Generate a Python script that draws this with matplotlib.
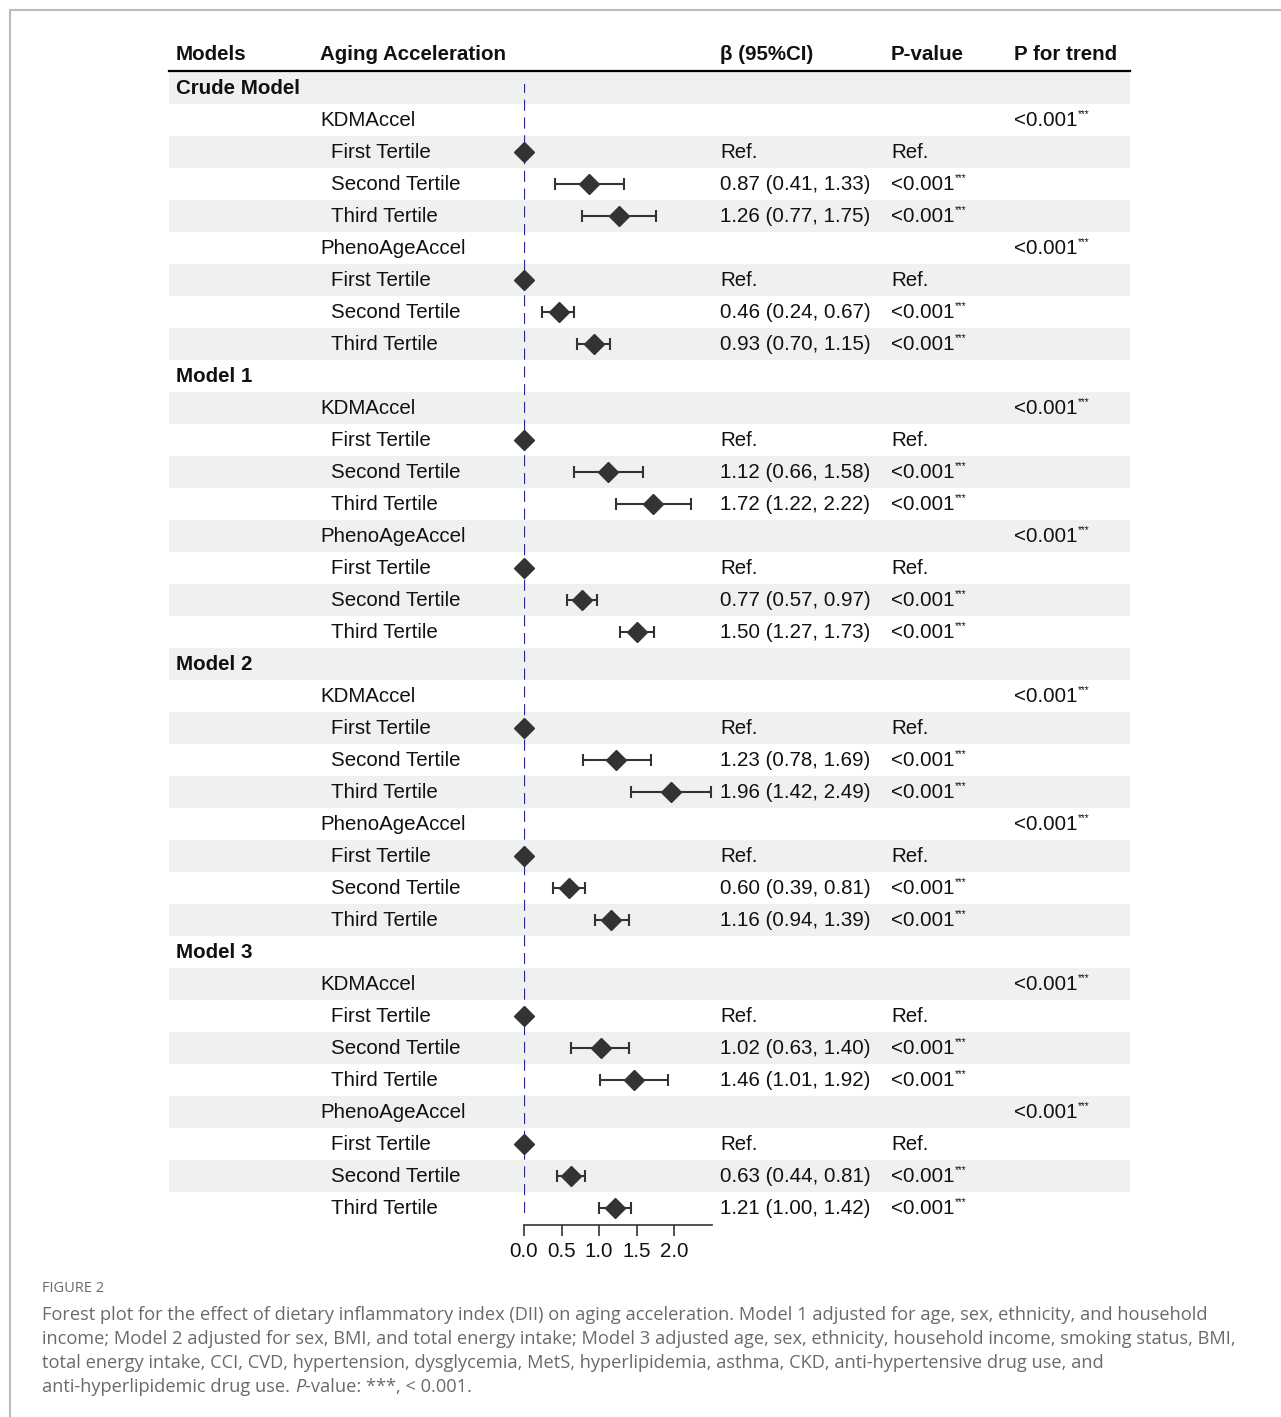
import numpy as np
import matplotlib.pyplot as plt
from matplotlib.patches import Rectangle
from matplotlib.lines import Line2D

# ---- data ----
models = ["Crude Model", "Model 1", "Model 2", "Model 3"]
accels = ["KDMAccel", "PhenoAgeAccel"]
tertiles = ["First Tertile", "Second Tertile", "Third Tertile"]

# beta, lower, upper for second and third tertile (first = Ref.)
# order: model -> accel -> [second, third]
beta = [[[0.87, 1.26], [0.46, 0.93]],
        [[1.12, 1.72], [0.77, 1.50]],
        [[1.23, 1.96], [0.60, 1.16]],
        [[1.02, 1.46], [0.63, 1.21]]]
lower = [[[0.41, 0.77], [0.24, 0.70]],
         [[0.66, 1.22], [0.57, 1.27]],
         [[0.78, 1.42], [0.39, 0.94]],
         [[0.63, 1.01], [0.44, 1.00]]]
upper = [[[1.33, 1.75], [0.67, 1.15]],
         [[1.58, 2.22], [0.97, 1.73]],
         [[1.69, 2.49], [0.81, 1.39]],
         [[1.40, 1.92], [0.81, 1.42]]]
p_trend = "<0.001"
p_val = "<0.001"
xticks = [0.0, 0.5, 1.0, 1.5, 2.0]

caption_title = "FIGURE 2"
caption_lines = [
    "Forest plot for the effect of dietary inflammatory index (DII) on aging acceleration. Model 1 adjusted for age, sex, ethnicity, and household",
    "income; Model 2 adjusted for sex, BMI, and total energy intake; Model 3 adjusted age, sex, ethnicity, household income, smoking status, BMI,",
    "total energy intake, CCI, CVD, hypertension, dysglycemia, MetS, hyperlipidemia, asthma, CKD, anti-hypertensive drug use, and",
]

# ---- build rows ----
rows = []  # (kind, label, b, lo, hi)
for m, mname in enumerate(models):
    rows.append(("model", mname, None, None, None))
    for a, aname in enumerate(accels):
        rows.append(("accel", aname, None, None, None))
        rows.append(("tert", tertiles[0], 0.0, None, None))
        for t in range(2):
            rows.append(("tert", tertiles[t + 1], beta[m][a][t], lower[m][a][t], upper[m][a][t]))

W, H = 1281, 1417
plt.rcParams['font.family'] = ['Liberation Sans', 'DejaVu Sans']
fig = plt.figure(figsize=(W / 100, H / 100), dpi=100)

# full-figure layout axes in pixel units
ax = fig.add_axes([0, 0, 1, 1])
ax.set_xlim(0, W)
ax.set_ylim(H, 0)
ax.axis("off")

y0, dy = 88, 32
xl, xr = 169, 1130
fs = 14.8
tc = "#111111"
band = "#eef1f0"

# page frame (top + left)
ax.add_line(Line2D([10, W], [10, 10], color="#bbbbbb", lw=1.5))
ax.add_line(Line2D([10, 10], [10, H], color="#bbbbbb", lw=1.5))

# header
hy = 54
for x, s in [(176, "Models"), (320, "Aging Acceleration"), (720, "β (95%CI)"),
             (891, "P-value"), (1014, "P for trend")]:
    ax.text(x, hy, s, fontsize=fs, fontweight="bold", color=tc, va="center")
ax.add_line(Line2D([xl, xr], [71, 71], color="black", lw=1.6))


def stars(x, y):
    ax.text(x + 64, y - 7, "***", fontsize=7, color=tc, va="center")


for i, (kind, label, b, lo, hi) in enumerate(rows):
    y = y0 + dy * i + 1
    if i % 2 == 0:
        ax.add_patch(Rectangle((xl, y0 + dy * i - dy / 2), xr - xl, dy, color=band, lw=0, zorder=0))
    if kind == "model":
        ax.text(176, y, label, fontsize=fs, fontweight="bold", color=tc, va="center")
    elif kind == "accel":
        ax.text(320, y, label, fontsize=fs, color=tc, va="center")
        ax.text(1014, y, p_trend, fontsize=fs, color=tc, va="center")
        stars(1014, y)
    else:
        ax.text(331, y, label, fontsize=fs, color=tc, va="center")
        if lo is None:
            ax.text(720, y, "Ref.", fontsize=fs, color=tc, va="center")
            ax.text(891, y, "Ref.", fontsize=fs, color=tc, va="center")
        else:
            ax.text(720, y, f"{b:.2f} ({lo:.2f}, {hi:.2f})", fontsize=fs, color=tc, va="center")
            ax.text(891, y, p_val, fontsize=fs, color=tc, va="center")
            stars(891, y)

# forest axes: x 0..2.5 between pixel 524 and 712, rows aligned with table
px0, px1, ptop, pbot = 524, 712, 72, 1225
fax = fig.add_axes([px0 / W, (H - pbot) / H, (px1 - px0) / W, (pbot - ptop) / H])
fax.patch.set_alpha(0)
fax.set_xlim(0, 2.5)
fax.set_ylim((pbot - y0) / dy, (ptop - y0) / dy)
fax.axvline(0, ymin=0.01, ymax=0.99, color="#1c1cf0", lw=1.6, ls=(0, (5, 3)), zorder=1)
for i, (kind, label, b, lo, hi) in enumerate(rows):
    if b is None:
        continue
    if lo is not None:
        fax.errorbar(b, i, xerr=[[b - lo], [hi - b]], fmt="none", ecolor="#333333",
                     elinewidth=1.5, capsize=4.5, capthick=1.5, zorder=2, clip_on=False)
    fax.plot(b, i, marker="D", ms=10, color="#333333", zorder=3, clip_on=False)
for s in ["top", "right", "left"]:
    fax.spines[s].set_visible(False)
fax.spines["bottom"].set_color("#333333")
fax.spines["bottom"].set_linewidth(1.2)
fax.set_yticks([])
fax.set_xticks(xticks)
fax.set_xticklabels([f"{t:.1f}" for t in xticks])
fax.tick_params(axis="x", length=8, width=1.2, color="#333333", labelsize=fs, pad=4, labelcolor=tc)

# caption
cc = "#6a6a6a"
cfam = ["Open Sans", "DejaVu Sans"]
cfs = 13.15
ax.text(42, 1289, caption_title, fontsize=10.5, color=cc, family=cfam, va="center")
for k, line in enumerate(caption_lines):
    ax.text(42, 1315 + 24 * k, line, fontsize=cfs, color=cc, family=cfam, va="center")
yl = 1315 + 24 * 3
t1 = ax.text(42, yl, "anti-hyperlipidemic drug use. ", fontsize=cfs, color=cc, family=cfam, va="center")
fig.canvas.draw()
inv = ax.transData.inverted()
x1 = inv.transform((t1.get_window_extent().x1, 0))[0]
t2 = ax.text(x1, yl, "P", fontsize=cfs, color=cc, family=cfam, style="italic", va="center")
fig.canvas.draw()
x2 = inv.transform((t2.get_window_extent().x1, 0))[0]
ax.text(x2, yl, "-value: ***, < 0.001.", fontsize=cfs, color=cc, family=cfam, va="center")

fig.savefig("out.png", dpi=100)
